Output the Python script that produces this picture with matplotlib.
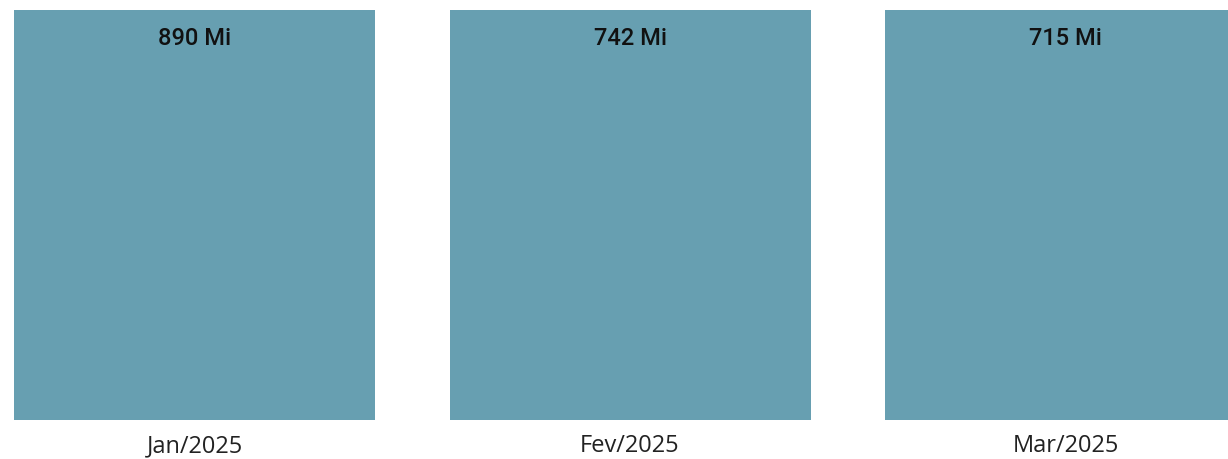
"""Monthly totals, drawn as full-height bars with value labels"""

from matplotlib import pyplot as plt
import numpy as np

months = ["Jan/2025", "Fev/2025", "Mar/2025"]
values_mi = [890, 742, 715]

BAR_COLOR = "#679fb1"


def main():
    values = np.array(values_mi, dtype=float)
    # every month is shown as its own 100% column
    shares = values / values

    fig = plt.figure(figsize=(12.28, 4.59), dpi=100)
    ax = fig.add_axes((0, 39 / 459, 1, 410 / 459))

    x = np.arange(len(months))
    ax.bar(x, shares, width=0.829, color=BAR_COLOR, linewidth=0)

    for xi, v in zip(x, values):
        ax.text(
            xi, 0.93, f"{v:.0f} Mi",
            ha="center", va="center",
            fontsize=17, family="Roboto", fontweight="medium", color="#111111",
        )

    ax.set_xlim(-0.4466, 2.373)
    ax.set_ylim(0, 1)
    ax.set_xticks(x)
    ax.set_xticklabels(months, family="Open Sans", fontsize=17, color="#222222")
    ax.tick_params(axis="x", length=0, pad=10)
    ax.set_yticks([])
    for s in ax.spines.values():
        s.set_visible(False)

    fig.savefig("out.png", dpi=100)


if __name__ == "__main__":
    main()
